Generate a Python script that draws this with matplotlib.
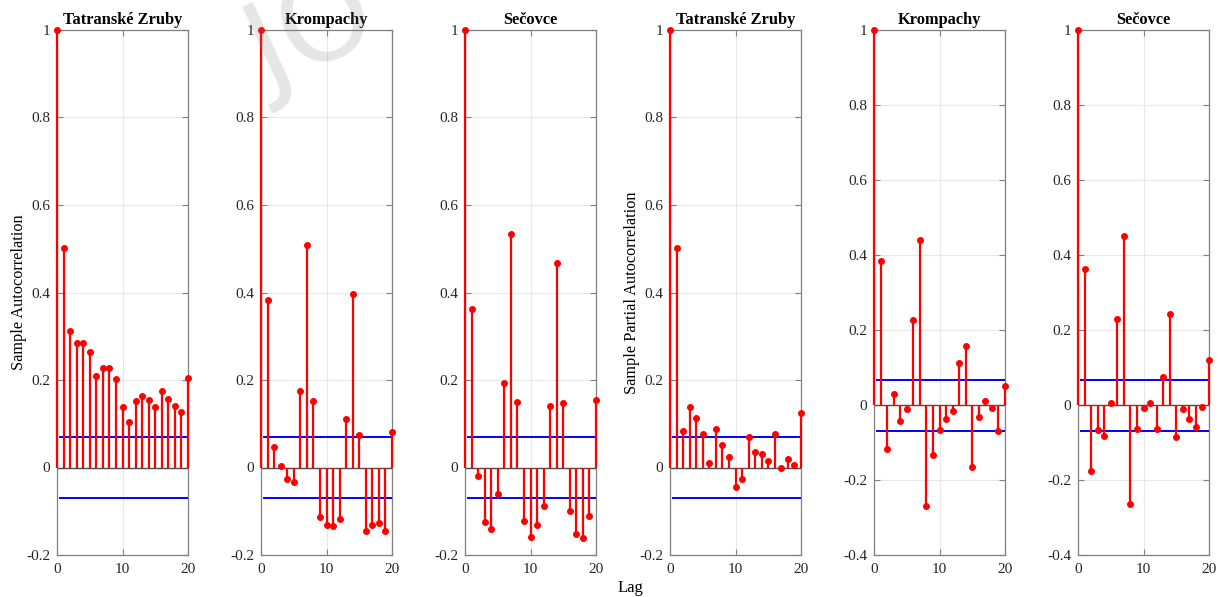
import numpy as np
import matplotlib
matplotlib.use("Agg")
import matplotlib.pyplot as plt
from matplotlib.ticker import FuncFormatter, MultipleLocator

plt.rcParams['font.family'] = ['Liberation Serif', 'DejaVu Serif']

lags = list(range(0, 21))
titles = ["Tatranské Zruby", "Krompachy", "Sečovce", "Tatranské Zruby", "Krompachy", "Sečovce"]

acf_tatranske = [1, 0.501, 0.311, 0.285, 0.284, 0.264, 0.209, 0.227, 0.228, 0.202, 0.139,
                 0.105, 0.152, 0.163, 0.154, 0.139, 0.175, 0.157, 0.141, 0.128, 0.204]
acf_krompachy = [1, 0.382, 0.048, 0.004, -0.027, -0.034, 0.175, 0.509, 0.153, -0.112, -0.132,
                 -0.134, -0.118, 0.112, 0.397, 0.074, -0.146, -0.131, -0.126, -0.144, 0.082]
acf_secovce = [1, 0.362, -0.019, -0.124, -0.140, -0.060, 0.194, 0.533, 0.149, -0.122, -0.159,
               -0.131, -0.088, 0.140, 0.467, 0.147, -0.099, -0.151, -0.160, -0.110, 0.154]
pacf_tatranske = [1, 0.501, 0.083, 0.138, 0.113, 0.076, 0.011, 0.088, 0.052, 0.024, -0.044,
                  -0.026, 0.069, 0.036, 0.031, 0.016, 0.076, 0.0, 0.019, 0.005, 0.124]
pacf_krompachy = [1, 0.384, -0.118, 0.030, -0.043, -0.010, 0.228, 0.441, -0.270, -0.134, -0.067,
                  -0.038, -0.017, 0.113, 0.157, -0.165, -0.031, 0.011, -0.008, -0.070, 0.052]
pacf_secovce = [1, 0.364, -0.175, -0.066, -0.082, 0.005, 0.229, 0.452, -0.264, -0.063, -0.008,
                0.005, -0.064, 0.074, 0.242, -0.086, -0.010, -0.036, -0.059, -0.005, 0.120]

bounds = [0.069, 0.069, 0.069, 0.069, 0.068, 0.068]
ylims = [(-0.2, 1), (-0.2, 1), (-0.2, 1), (-0.2, 1), (-0.4, 1), (-0.4, 1)]
series = [acf_tatranske, acf_krompachy, acf_secovce, pacf_tatranske, pacf_krompachy, pacf_secovce]

W, H = 1223, 597
fig = plt.figure(figsize=(W / 100, H / 100), dpi=100)

lefts = [57, 261, 465, 670, 874, 1078]
right_w = 131
top_px, bot_px = 30, 555

fmt = FuncFormatter(lambda v, p: ('%g' % round(v, 6)).replace('\u2212', '-'))
edge = '#808080'

axes = []
for i in range(6):
    ax = fig.add_axes([lefts[i] / W, (H - bot_px) / H, right_w / W, (bot_px - top_px) / H])
    axes.append(ax)
    vals = series[i]
    ax.set_xlim(0, 20)
    ax.set_ylim(*ylims[i])
    ax.grid(True, color='#e8e8e8', linewidth=0.8, zorder=0)
    ax.set_axisbelow(True)
    # stems
    ax.axhline(0, color='#4d4d4d', linewidth=1.0, zorder=2)
    ax.vlines(lags, 0, vals, colors='#ff0000', linewidth=1.6, zorder=6, clip_on=False)
    ax.plot(lags, vals, 'o', color='#ff0000', markersize=4, zorder=7, clip_on=False)
    b = bounds[i]
    ax.plot([0.5, 20], [b, b], color='#0000ff', linewidth=1.4, zorder=5)
    ax.plot([0.5, 20], [-b, -b], color='#0000ff', linewidth=1.4, zorder=5)
    ax.xaxis.set_major_locator(MultipleLocator(10))
    ax.yaxis.set_major_locator(MultipleLocator(0.2))
    ax.yaxis.set_major_formatter(fmt)
    ax.xaxis.set_major_formatter(fmt)
    for s in ax.spines.values():
        s.set_color(edge)
        s.set_linewidth(0.9)
    ax.tick_params(direction='in', length=4, width=0.8, color=edge, labelsize=11,
                   labelcolor='#262626', top=True, right=True)
    ax.tick_params(axis='y', pad=5)
    ax.tick_params(axis='x', pad=6)
    ax.set_title(titles[i], fontsize=11.8, fontweight='bold', pad=4)

axes[0].set_ylabel('Sample Autocorrelation', fontsize=11.7, labelpad=-0.5)
axes[3].set_ylabel('Sample Partial Autocorrelation', fontsize=11.7, labelpad=-0.5)
fig.text(630 / W, 1 - 588 / H, 'Lag', fontsize=12, ha='center', va='center')

# faint watermark (partly outside the page, as in the source)
fig.text(268 / W, 1 - 92 / H, 'JO', fontsize=85, family='DejaVu Sans', color='#808080',
         alpha=0.2, rotation=25, rotation_mode='anchor', ha='left', va='baseline', zorder=10)

fig.savefig('out.png', dpi=100)
